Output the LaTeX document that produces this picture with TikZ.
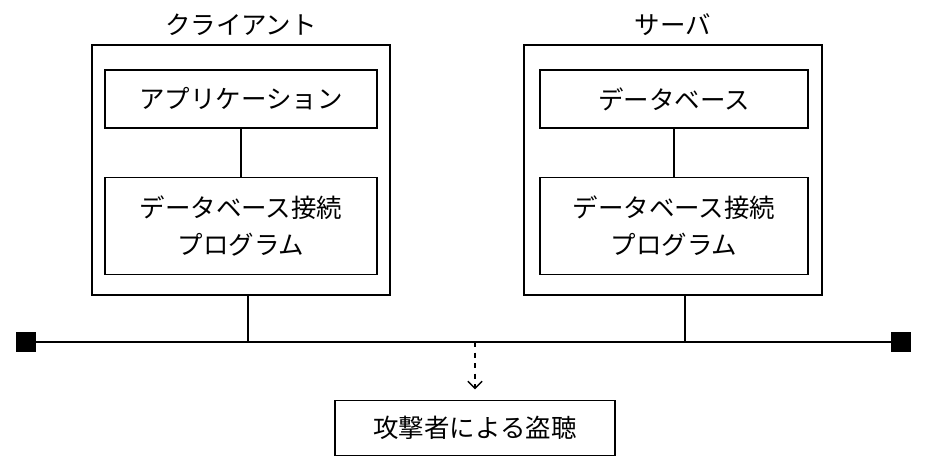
\documentclass[tikz,border=0pt]{standalone}
\usepackage{fontspec}
\setmainfont{Noto Sans CJK JP}
\usetikzlibrary{positioning,arrows.meta}

\begin{document}
\begin{tikzpicture}[x=0.02cm, y=-0.02cm,
	box/.style={draw, thick, minimum width=272*0.02cm, align=center, font=\fontsize{14.5}{21}\selectfont},
	frame/.style={draw, thick, minimum width=298*0.02cm, minimum height=250*0.02cm},
	title/.style={font=\fontsize{14.5}{17}\selectfont},
	port/.style={fill=black, minimum size=20*0.02cm, inner sep=0pt}]
	\useasboundingbox (0,0) rectangle (930,474);

	% client side
	\node[frame] (cframe) at (241,170) {};
	\node[title, above=0.05cm of cframe] (ctitle) {クライアント};
	\node[box, minimum height=58*0.02cm] (capp) at (241,99) {アプリケーション};
	\node[box, minimum height=97*0.02cm] (cconn) at (241,226) {データベース接続\\プログラム};

	% server side
	\node[frame] (sframe) at (673,170) {};
	\node[title, above=0.05cm of sframe] (stitle) {サーバ};
	\node[box, minimum height=58*0.02cm, minimum width=268*0.02cm] (sdb) at (674,99) {データベース};
	\node[box, minimum height=97*0.02cm, minimum width=268*0.02cm] (sconn) at (674,226) {データベース接続\\プログラム};

	% network
	\node[port] (pl) at (26,342) {};
	\node[port] (pr) at (901,342) {};
	\coordinate (cjoin) at (248,342);
	\coordinate (sjoin) at (685,342);
	\coordinate (tap) at (475,342);
	\draw[thick] (pl) -- (pr);

	\node[box, minimum width=280*0.02cm, minimum height=55*0.02cm] (attacker) at (475,428) {攻撃者による盗聴};

	\draw[thick] (capp) -- (cconn);
	\draw[thick] (sdb) -- (sconn);
	\draw[thick] (cjoin |- cframe.south) -- (cjoin);
	\draw[thick] (sjoin |- sframe.south) -- (sjoin);
	\draw[thick, dashed, -{Straight Barb[length=4pt]}] (tap) -- ([yshift=6pt]attacker.north);
\end{tikzpicture}
\end{document}
